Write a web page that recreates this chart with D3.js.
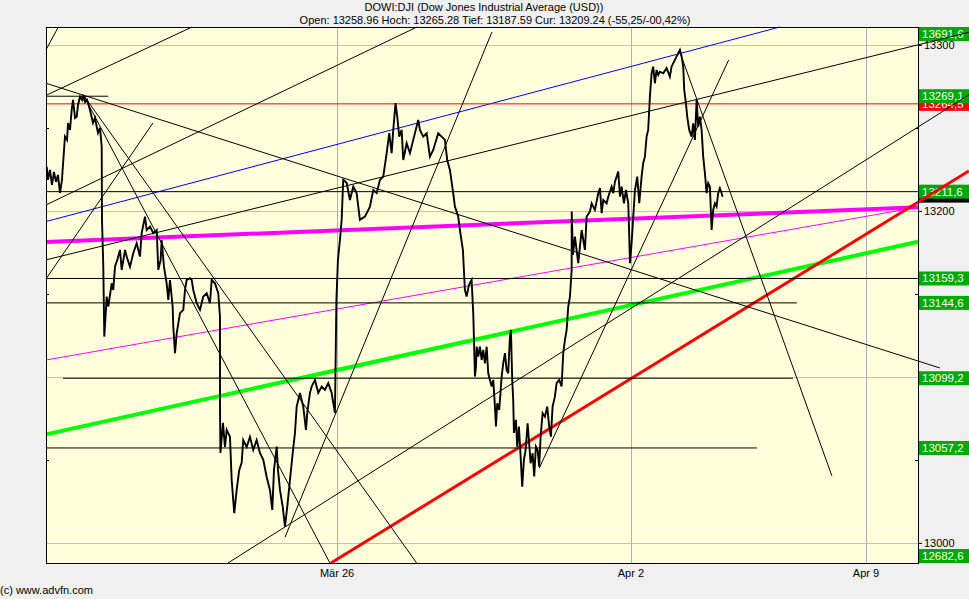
<!DOCTYPE html>
<html><head><meta charset="utf-8">
<script src="https://cdn.jsdelivr.net/npm/d3@7"></script>
<style>
html,body{margin:0;padding:0;background:#f0f0f0;}
svg{display:block;font-family:"Liberation Sans",Arial,sans-serif;}
</style></head><body>
<svg id="c" width="969" height="599"></svg>
<script>
// ---- price series (trading-day index from Mar 19 open, DJI value) ----
const priceT = [0.061,0.083,0.117,0.151,0.185,0.219,0.253,0.287,0.321,0.338,0.372,0.407,0.424,0.458,0.486,0.509,0.543,0.572,0.594,0.628,0.662,0.679,0.713,0.747,0.798,0.849,0.883,0.934,0.968,0.997,
1.002,1.024,1.041,1.082,1.109,1.167,1.194,1.223,1.262,1.308,1.337,1.394,1.422,1.478,1.534,1.592,1.648,1.677,1.733,1.762,1.819,1.874,1.932,1.960,
2.000,2.017,2.056,2.102,2.130,2.159,2.204,2.215,2.244,2.273,2.329,2.385,2.414,2.443,2.499,2.528,2.555,2.613,2.669,2.725,2.783,2.839,2.868,2.924,2.980,
3.009,3.010,3.017,3.060,3.094,3.123,3.179,3.208,3.252,3.293,3.337,3.378,3.405,3.463,3.519,3.575,3.633,3.689,3.746,3.803,3.859,3.899,3.928,3.974,3.996,
4.030,4.076,4.115,4.154,4.200,4.246,4.285,4.314,4.341,4.370,4.426,4.472,4.494,4.540,4.569,4.625,4.681,4.739,4.795,4.851,4.909,4.936,4.965,4.990,
5.016,5.050,5.079,5.106,5.164,5.220,5.277,5.334,5.390,5.475,5.560,5.617,5.675,5.731,5.787,5.845,5.889,5.930,5.957,5.996,
6.025,6.059,6.100,6.127,6.185,6.241,6.297,6.382,6.411,6.467,6.525,6.581,6.637,6.722,6.780,6.836,6.875,6.921,6.977,
7.006,7.062,7.091,7.142,7.176,7.205,7.244,7.290,7.318,7.347,7.364,7.376,7.403,7.432,7.461,7.488,7.517,7.546,7.573,7.602,7.631,7.658,7.687,7.704,7.726,7.760,7.801,7.828,7.857,7.886,7.913,7.942,7.959,7.981,7.998,
8.010,8.044,8.066,8.095,8.124,8.151,8.180,8.209,8.243,8.265,8.294,8.328,8.355,8.384,8.413,8.440,8.464,8.498,8.537,8.576,8.610,8.639,8.668,8.707,8.736,8.780,8.821,8.849,8.878,8.907,8.934,8.963,8.992,8.993,
9.014,9.048,9.104,9.162,9.218,9.247,9.303,9.332,9.388,9.445,9.474,9.502,9.530,9.587,9.615,9.672,9.700,9.729,9.785,9.814,9.842,9.882,9.915,9.955,9.972,9.984,
10.012,10.040,10.069,10.108,10.142,10.182,10.209,10.238,10.267,10.294,10.323,10.352,10.379,10.408,10.437,10.465,10.493,10.550,10.607,10.663,10.692,10.748,10.805,10.834,10.863,10.890,10.907,10.936,10.958,10.992,
11.033,11.060,11.089,11.118,11.145,11.174,11.203,11.230,11.259,11.288,11.315,11.344,11.373,11.400,11.429,11.458,11.485,11.514,11.543,11.560];
const priceV = [13226.7,13218.7,13224.7,13215.7,13223.5,13217.5,13221.7,13210.8,13218.7,13227.7,13244.8,13242.8,13253.0,13248.8,13260.8,13266.9,13256.0,13256.8,13263.8,13268.8,13266.9,13269.9,13265.6,13266.9,13260.8,13253.0,13256.0,13247.0,13250.0,13238.7,
13194.6,13166.4,13124.3,13148.4,13142.3,13156.4,13152.4,13166.4,13170.5,13176.5,13164.5,13176.5,13172.5,13166.4,13174.5,13180.5,13172.5,13186.6,13196.6,13188.5,13190.5,13186.6,13188.5,13164.5,
13170.5,13182.5,13166.4,13156.4,13146.4,13158.4,13142.3,13130.3,13114.3,13126.3,13138.4,13140.4,13152.4,13158.4,13159.5,13158.4,13152.4,13144.4,13140.4,13148.4,13150.4,13144.4,13158.4,13156.4,13150.4,
13136.3,13080.1,13054.2,13072.3,13057.8,13068.1,13063.9,13038.0,13017.9,13031.9,13044.0,13048.2,13062.0,13057.8,13063.9,13056.0,13062.0,13054.2,13050.0,13039.9,13031.9,13019.9,13044.0,13058.0,13044.0,
13031.9,13021.9,13009.8,13021.9,13038.0,13054.0,13066.3,13082.1,13086.1,13090.4,13082.1,13068.1,13078.3,13090.4,13094.2,13098.2,13090.4,13094.2,13092.2,13096.2,13090.4,13084.3,13078.3,13146.4,
13170.5,13182.5,13194.6,13218.7,13216.9,13206.6,13214.6,13210.8,13194.6,13196.6,13202.6,13212.6,13210.8,13218.7,13220.7,13234.8,13246.8,13234.8,13248.8,13264.9,
13256.8,13244.8,13248.8,13230.7,13240.8,13234.8,13242.8,13254.8,13248.8,13244.8,13246.8,13232.7,13236.7,13246.8,13244.8,13242.8,13230.7,13224.7,13210.7,
13202.6,13196.6,13188.5,13176.5,13152.4,13148.4,13155.4,13158.4,13138.4,13100.2,13106.2,13118.2,13112.2,13118.2,13110.2,13116.3,13108.2,13118.2,13102.2,13098.2,13094.2,13098.2,13082.1,13070.1,13084.1,13080.1,13100.2,13108.2,13114.3,13104.2,13102.2,13124.3,13128.3,13098.2,13086.1,
13066.3,13074.1,13058.0,13070.1,13052.0,13033.9,13050.0,13056.0,13072.1,13062.0,13048.0,13054.0,13040.0,13058.0,13056.0,13046.0,13064.0,13078.1,13076.1,13082.1,13070.1,13064.0,13082.1,13088.1,13096.2,13098.2,13094.2,13114.3,13122.3,13128.3,13142.3,13148.4,13164.4,13199.6,
13173.5,13184.5,13168.5,13188.5,13176.5,13196.6,13199.6,13204.6,13200.6,13210.7,13213.7,13198.6,13206.6,13204.6,13208.6,13214.6,13210.7,13217.6,13223.7,13208.6,13214.6,13204.6,13212.6,13204.6,13184.5,13168.5,
13180.5,13196.6,13212.6,13220.7,13204.6,13220.7,13228.7,13232.7,13244.8,13248.8,13268.8,13282.9,13286.9,13276.9,13284.9,13281.9,13283.9,13282.9,13286.0,13280.9,13286.9,13291.0,13295.0,13297.0,13292.9,13286.9,13272.9,13264.9,13256.8,13248.8,
13244.8,13252.8,13242.8,13266.9,13250.8,13256.8,13248.8,13232.7,13222.7,13210.7,13216.7,13214.6,13188.5,13200.6,13204.6,13202.6,13210.7,13213.7,13210.7,13208.6];

// ---- axes ----
const yTicks = [13000, 13100, 13200, 13300];
const yTickLabels = ["13000", "", "13200", "13300"]; // 13100 is covered by the 13099,2 marker in the original
const yMinorTicks = [13050, 13150, 13250];
const xTicks = [5, 10, 14];
const xTickLabels = ["Mär 26", "Apr 2", "Apr 9"];

// ---- drawn trend lines (start/end: trading-day index, value) ----
const trendNames = ["blue","magentaThick","magentaThin","green","redThick","redPrevClose","channel","rising2","diagonal","peakHold","peakFallA","peakFallB","topLeft1","topLeft2","rising3","rising4","lowRise1","lowRise2","peakFallC","h1","h2","h3","h4","h5"];
const trendT1 = [0.049,0.049,0.049,0.049,4.897,0.049,0.049,3.145,0.049,0.049,0.696,0.696,0.049,0.049,0.049,0.049,4.115,8.440,10.851,0.049,0.049,0.049,0.339,0.049];
const trendV1 = [13193.6,13181.3,13110.2,13065.4,12987.9,13264.5,13170.5,12987.9,13276.9,13269.1,13269.3,13269.3,13297.0,13269.6,13203.6,13159.0,13003.4,13045.0,13294.0,13211.6,13159.3,13144.6,13099.2,13057.2];
const trendT2 = [12.535,14.882,14.882,14.882,15.75,14.882,15.75,15.75,15.256,1.109,4.880,6.355,0.259,2.533,6.360,1.869,7.636,11.664,13.419,14.882,14.882,12.824,12.756,12.143];
const trendV2 = [13310.8,13202.2,13202.2,13181.4,13224.1,13264.5,13307.6,13269.9,13105.4,13269.1,12987.9,12987.9,13310.8,13310.8,13310.8,13253.0,13307.8,13291.0,13040.4,13211.6,13159.3,13144.6,13099.2,13057.2];

// ---- right-edge value markers ----
const markerLabels = ["13264,5","","13691,6","13269,1","13211,6","13159,3","13144,6","13099,2","13057,2","12682,6"];
const markerValues = [13264.5,13209.24,13691.6,13269.1,13211.6,13159.3,13144.6,13099.2,13057.2,12682.6];
const markerKinds = ["prev","cur","line","line","line","line","line","line","line","line"];

const titleText = "DOWI:DJI (Dow Jones Industrial Average (USD))";
const subtitleText = "Open: 13258.96 Hoch: 13265.28 Tief: 13187.59 Cur: 13209.24 (-55,25/-00,42%)";
const creditText = "(c) www.advfn.com";

// ---- styles ----
const lineStyle = {
  blue: ["#0000ff", 1], magentaThick: ["#ff00ff", 4], magentaThin: ["#ff00ff", 1],
  green: ["#00ff00", 4], redThick: ["#ff0000", 3], redPrevClose: ["#ff0000", 1]
};
const markerFill = { prev: "#ff0000", cur: "#000000", line: "#00a800" };

const L = 46, R = 918, T = 27, B = 563;
const svg = d3.select("#c");
const x = d3.scaleLinear().domain([0, 15]).range([43.1, 43.1 + 15 * 58.78]);
const y = d3.scaleLinear().domain([12987.9, 13310.8]).range([B, T]);

svg.append("rect").attr("width", 969).attr("height", 599).attr("fill", "#f0f0f0");
svg.append("rect").attr("x", L).attr("y", T).attr("width", R - L).attr("height", B - T).attr("fill", "#ffffdc");

// grid
svg.append("g").selectAll("line").data(yTicks).join("line")
  .attr("x1", L).attr("x2", R).attr("y1", d => Math.round(y(d)) + 0.5).attr("y2", d => Math.round(y(d)) + 0.5)
  .attr("stroke", "#c0c0c0");
svg.append("g").selectAll("line").data(xTicks).join("line")
  .attr("x1", d => Math.round(x(d)) + 0.5).attr("x2", d => Math.round(x(d)) + 0.5).attr("y1", T).attr("y2", B)
  .attr("stroke", "#b0b0b0");

// y axis labels (right)
const yAxis = d3.axisRight(y).tickValues(yTicks).tickFormat((d, i) => yTickLabels[i]).tickSize(4).tickPadding(2);
const ya = svg.append("g").attr("transform", `translate(${R},0)`).call(yAxis);
ya.select(".domain").remove();
ya.selectAll("text").attr("font-size", 11).attr("font-family", "Liberation Sans, Arial, sans-serif").attr("fill", "#000");
ya.selectAll("line").attr("stroke", "#000");
// minor ticks
[L, R - 3].forEach(x0 => {
  svg.append("g").selectAll("line").data(yMinorTicks).join("line")
    .attr("x1", x0).attr("x2", x0 + 3).attr("y1", d => Math.round(y(d)) + 0.5).attr("y2", d => Math.round(y(d)) + 0.5)
    .attr("stroke", "#000");
});

// x labels
svg.append("g").selectAll("text").data(xTicks).join("text")
  .attr("x", d => x(d)).attr("y", 577).attr("text-anchor", "middle").attr("font-size", 11)
  .text((d, i) => xTickLabels[i]);

// markers
const mg = svg.append("g");
markerValues.forEach((v, i) => {
  const cy = Math.max(T, Math.min(B - 14, y(v) - 7));
  mg.append("rect").attr("x", 919).attr("y", cy).attr("width", 50).attr("height", 14).attr("fill", markerFill[markerKinds[i]]);
  if (markerLabels[i]) mg.append("text").attr("x", 922).attr("y", cy + 11).attr("font-size", 11.5).attr("fill", "#fff").text(markerLabels[i]);
});

// trend lines
svg.append("g").selectAll("line").data(trendNames).join("line")
  .attr("x1", (d, i) => x(trendT1[i])).attr("y1", (d, i) => y(trendV1[i]))
  .attr("x2", (d, i) => x(trendT2[i])).attr("y2", (d, i) => y(trendV2[i]))
  .attr("stroke", d => (lineStyle[d] || ["#000", 1])[0])
  .attr("stroke-width", d => (lineStyle[d] || ["#000", 1])[1]);

// price
const pts = priceT.map((t, i) => [t, priceV[i]]);
svg.append("path").datum(pts)
  .attr("d", d3.line().x(d => x(d[0])).y(d => y(d[1])))
  .attr("fill", "none").attr("stroke", "#000").attr("stroke-width", 1.9).attr("stroke-linejoin", "miter");

// frame
svg.append("rect").attr("x", L + 0.5).attr("y", T + 0.5).attr("width", R - L).attr("height", B - T)
  .attr("fill", "none").attr("stroke", "#000");

// titles
svg.append("text").attr("x", 484).attr("y", 11).attr("text-anchor", "middle").attr("font-size", 11).text(titleText);
svg.append("text").attr("x", 495).attr("y", 24).attr("text-anchor", "middle").attr("font-size", 11).text(subtitleText);
svg.append("text").attr("x", 0).attr("y", 594).attr("font-size", 11).text(creditText);
</script>
</body></html>
